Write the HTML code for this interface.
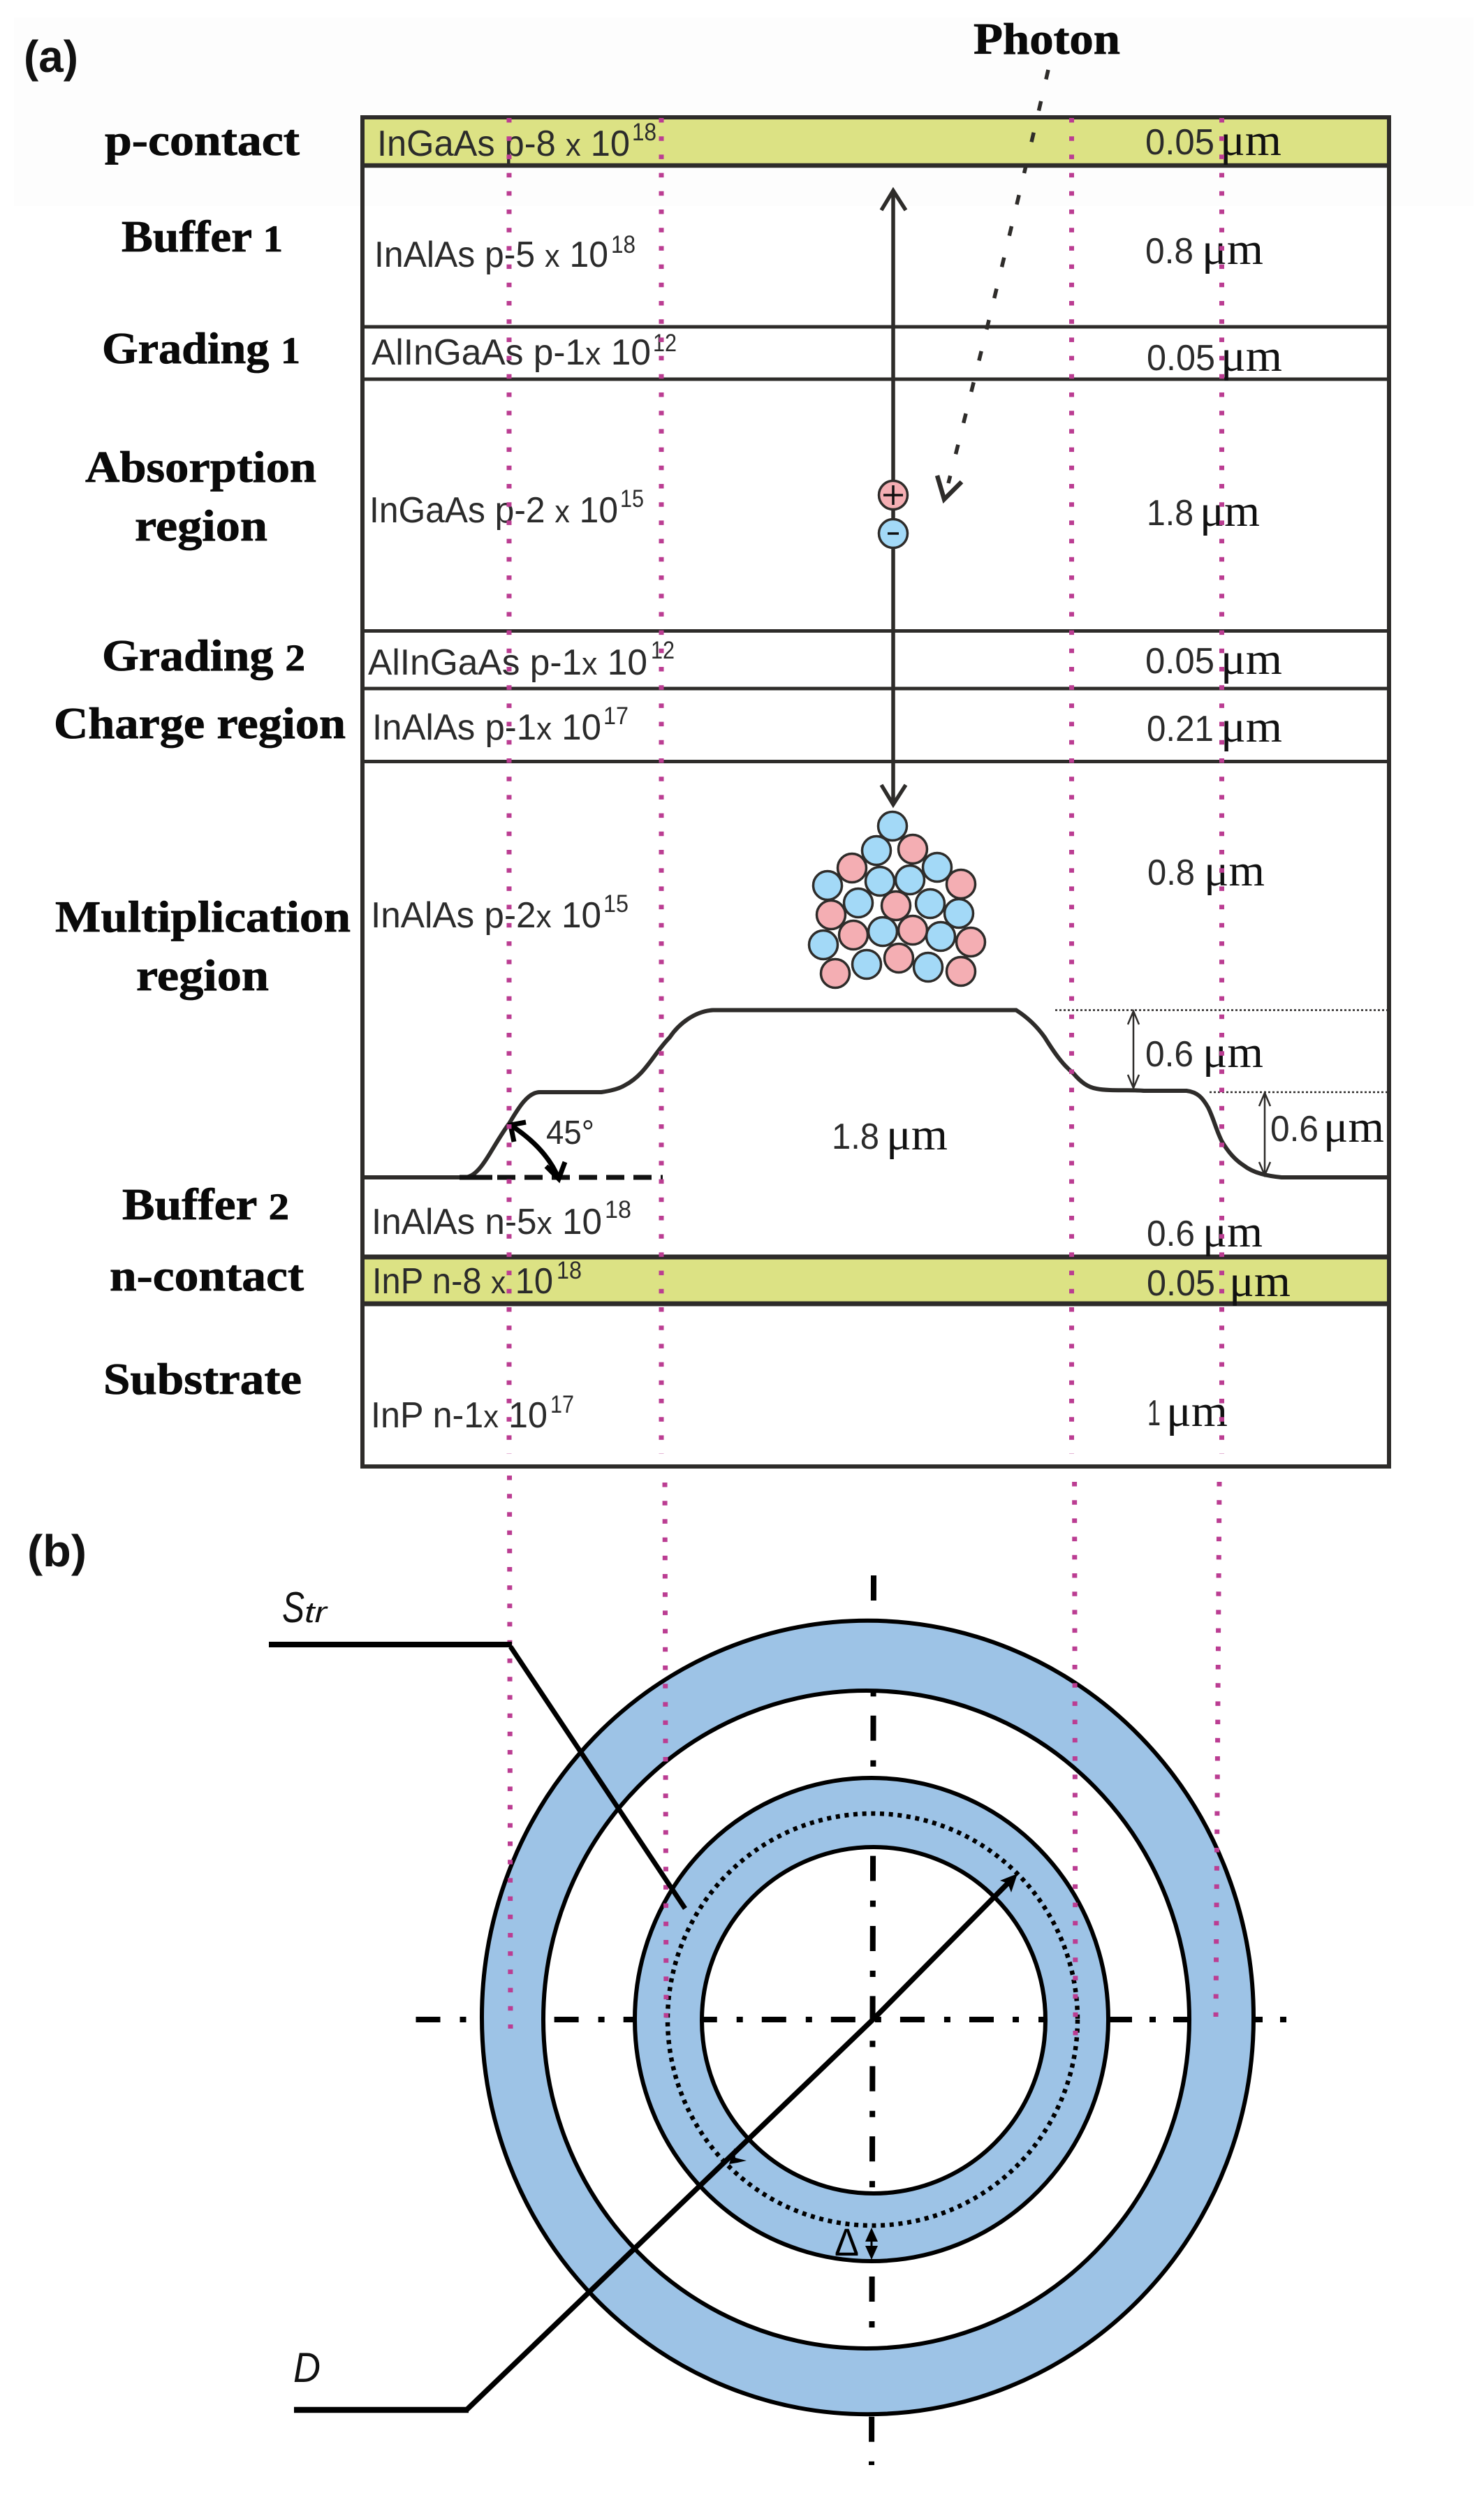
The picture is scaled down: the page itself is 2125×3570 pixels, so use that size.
<!DOCTYPE html>
<html><head><meta charset="utf-8"><style>
html,body{margin:0;padding:0;background:#fff}
svg{display:block}
.l{font-family:"Liberation Serif",serif;font-weight:bold;font-size:64px;fill:#0a0a0a;stroke:#0a0a0a;stroke-width:.8px}
.t{font-family:"Liberation Sans",sans-serif;font-size:52px;fill:#2b2b2b}
.s{font-family:"Liberation Sans",sans-serif;font-size:35px;fill:#2b2b2b}
.n{font-family:"Liberation Sans",sans-serif;font-size:52px;fill:#2b2b2b}
.u{font-family:"Liberation Serif",serif;font-size:65px;fill:#111}
.i{font-family:"Liberation Sans",sans-serif;font-style:italic;fill:#111}
.h{font-family:"Liberation Sans",sans-serif;font-weight:bold;font-size:64px;fill:#111}
</style></head><body>
<svg xmlns="http://www.w3.org/2000/svg" width="2125" height="3570" viewBox="0 0 2125 3570">
<rect width="2125" height="3570" fill="#fff"/>
<rect x="20" y="25" width="2090" height="270" fill="#fdfdfd"/>
<rect x="519" y="168" width="1470" height="69" fill="#dce284"/>
<rect x="519" y="1800" width="1470" height="67" fill="#dce284"/>
<g stroke="#2e2c2a" fill="none">
<rect x="519" y="168" width="1470" height="1932" stroke-width="6"/>
<path d="M519 237H1989" stroke-width="6.5"/>
<path d="M519 468H1989M519 543H1989M519 903.5H1989M519 986H1989M519 1090.5H1989" stroke-width="5"/>
<path d="M519 1800H1989M519 1867H1989" stroke-width="7"/>
</g>
<!-- labels -->
<text class="h" x="34" y="103" textLength="78" lengthAdjust="spacingAndGlyphs">(a)</text>
<text class="h" x="39" y="2243" textLength="85" lengthAdjust="spacingAndGlyphs">(b)</text>
<text class="l" x="1394" y="77" textLength="210" lengthAdjust="spacingAndGlyphs">Photon</text>
<text class="l" x="150" y="222" textLength="279" lengthAdjust="spacingAndGlyphs">p-contact</text>
<text class="l" x="174" y="360" textLength="231" lengthAdjust="spacingAndGlyphs">Buffer <tspan font-size="54">1</tspan></text>
<text class="l" x="146" y="520" textLength="284" lengthAdjust="spacingAndGlyphs">Grading <tspan font-size="54">1</tspan></text>
<text class="l" x="122" y="690" textLength="331" lengthAdjust="spacingAndGlyphs">Absorption</text>
<text class="l" x="193" y="774" textLength="190" lengthAdjust="spacingAndGlyphs">region</text>
<text class="l" x="146" y="960" textLength="291" lengthAdjust="spacingAndGlyphs">Grading <tspan font-size="54">2</tspan></text>
<text class="l" x="77" y="1057" textLength="418" lengthAdjust="spacingAndGlyphs">Charge region</text>
<text class="l" x="79" y="1334" textLength="423" lengthAdjust="spacingAndGlyphs">Multiplication</text>
<text class="l" x="195" y="1418" textLength="190" lengthAdjust="spacingAndGlyphs">region</text>
<text class="l" x="175" y="1746" textLength="239" lengthAdjust="spacingAndGlyphs">Buffer <tspan font-size="54">2</tspan></text>
<text class="l" x="157" y="1848" textLength="278" lengthAdjust="spacingAndGlyphs">n-contact</text>
<text class="l" x="148" y="1996" textLength="284" lengthAdjust="spacingAndGlyphs">Substrate</text>
<!-- doping -->
<text class="t" x="540" y="223" textLength="362" lengthAdjust="spacingAndGlyphs">InGaAs p-8 <tspan font-size="45">x</tspan> 10</text><text class="s" x="905" y="201" textLength="35" lengthAdjust="spacingAndGlyphs">18</text>
<text class="t" x="536" y="382" textLength="335" lengthAdjust="spacingAndGlyphs">InAlAs p-5 <tspan font-size="45">x</tspan> 10</text><text class="s" x="875" y="362" textLength="35" lengthAdjust="spacingAndGlyphs">18</text>
<text class="t" x="532" y="522" textLength="400" lengthAdjust="spacingAndGlyphs">AlInGaAs p-1<tspan font-size="45">x</tspan> 10</text><text class="s" x="935" y="503" textLength="34" lengthAdjust="spacingAndGlyphs">12</text>
<text class="t" x="529" y="748" textLength="356" lengthAdjust="spacingAndGlyphs">InGaAs p-2 <tspan font-size="45">x</tspan> 10</text><text class="s" x="888" y="726" textLength="34" lengthAdjust="spacingAndGlyphs">15</text>
<text class="t" x="527" y="966" textLength="400" lengthAdjust="spacingAndGlyphs">AlInGaAs p-1<tspan font-size="45">x</tspan> 10</text><text class="s" x="932" y="943" textLength="34" lengthAdjust="spacingAndGlyphs">12</text>
<text class="t" x="533" y="1059" textLength="328" lengthAdjust="spacingAndGlyphs">InAlAs p-1<tspan font-size="45">x</tspan> 10</text><text class="s" x="864" y="1037" textLength="36" lengthAdjust="spacingAndGlyphs">17</text>
<text class="t" x="531" y="1328" textLength="330" lengthAdjust="spacingAndGlyphs">InAlAs p-2<tspan font-size="45">x</tspan> 10</text><text class="s" x="864" y="1306" textLength="36" lengthAdjust="spacingAndGlyphs">15</text>
<text class="t" x="532" y="1767" textLength="330" lengthAdjust="spacingAndGlyphs">InAlAs n-5<tspan font-size="45">x</tspan> 10</text><text class="s" x="866" y="1744" textLength="38" lengthAdjust="spacingAndGlyphs">18</text>
<text class="t" x="533" y="1852" textLength="259" lengthAdjust="spacingAndGlyphs">InP n-8 <tspan font-size="45">x</tspan> 10</text><text class="s" x="797" y="1831" textLength="36" lengthAdjust="spacingAndGlyphs">18</text>
<text class="t" x="531" y="2044" textLength="253" lengthAdjust="spacingAndGlyphs">InP n-1<tspan font-size="45">x</tspan> 10</text><text class="s" x="788" y="2023" textLength="34" lengthAdjust="spacingAndGlyphs">17</text>
<!-- thickness -->
<text class="n" x="1640" y="221" textLength="99" lengthAdjust="spacingAndGlyphs">0.05</text><text class="u" x="1747" y="222" textLength="88" lengthAdjust="spacingAndGlyphs">μm</text>
<text class="n" x="1640" y="377" textLength="69" lengthAdjust="spacingAndGlyphs">0.8</text><text class="u" x="1721" y="378" textLength="88" lengthAdjust="spacingAndGlyphs">μm</text>
<text class="n" x="1642" y="530" textLength="98" lengthAdjust="spacingAndGlyphs">0.05</text><text class="u" x="1748" y="531" textLength="88" lengthAdjust="spacingAndGlyphs">μm</text>
<text class="n" x="1642" y="752" textLength="67" lengthAdjust="spacingAndGlyphs">1.8</text><text class="u" x="1718" y="753" textLength="86" lengthAdjust="spacingAndGlyphs">μm</text>
<text class="n" x="1640" y="964" textLength="99" lengthAdjust="spacingAndGlyphs">0.05</text><text class="u" x="1748" y="965" textLength="88" lengthAdjust="spacingAndGlyphs">μm</text>
<text class="n" x="1642" y="1061" textLength="96" lengthAdjust="spacingAndGlyphs">0.21</text><text class="u" x="1748" y="1062" textLength="88" lengthAdjust="spacingAndGlyphs">μm</text>
<text class="n" x="1643" y="1267" textLength="68" lengthAdjust="spacingAndGlyphs">0.8</text><text class="u" x="1724" y="1268" textLength="87" lengthAdjust="spacingAndGlyphs">μm</text>
<text class="n" x="1640" y="1527" textLength="69" lengthAdjust="spacingAndGlyphs">0.6</text><text class="u" x="1722" y="1528" textLength="87" lengthAdjust="spacingAndGlyphs">μm</text>
<text class="n" x="1191" y="1645" textLength="68" lengthAdjust="spacingAndGlyphs">1.8</text><text class="u" x="1269" y="1646" textLength="88" lengthAdjust="spacingAndGlyphs">μm</text>
<text class="n" x="1819" y="1634" textLength="69" lengthAdjust="spacingAndGlyphs">0.6</text><text class="u" x="1895" y="1635" textLength="87" lengthAdjust="spacingAndGlyphs">μm</text>
<text class="n" x="1642" y="1784" textLength="69" lengthAdjust="spacingAndGlyphs">0.6</text><text class="u" x="1722" y="1785" textLength="86" lengthAdjust="spacingAndGlyphs">μm</text>
<text class="n" x="1642" y="1855" textLength="98" lengthAdjust="spacingAndGlyphs">0.05</text><text class="u" x="1760" y="1856" textLength="88" lengthAdjust="spacingAndGlyphs">μm</text>
<text class="n" x="1643" y="2041" textLength="19" lengthAdjust="spacingAndGlyphs">1</text><text class="u" x="1670" y="2042" textLength="88" lengthAdjust="spacingAndGlyphs">μm</text>
<text class="n" x="782" y="1638" style="font-size:48px" textLength="69" lengthAdjust="spacingAndGlyphs">45°</text>
<!-- carrier arrow -->
<g stroke="#2e2c2a" fill="none" stroke-width="5.5">
<path d="M1279 272V1150"/>
<path d="M1262 301L1279 273L1297 301"/>
<path d="M1262 1124L1279 1152L1297 1124"/>
<path d="M1501 100Q1432 400 1358 692" stroke-dasharray="14 32"/>
<path d="M1342 681L1352 715L1377 690" stroke-width="6.5"/>
</g>
<g stroke="#2e2c2a" stroke-width="3.5">
<ellipse cx="1279" cy="709" rx="20.5" ry="20.5" fill="#f4aeb3"/>
<ellipse cx="1279" cy="764" rx="20.5" ry="20.5" fill="#a3d9f7"/>
</g>
<path d="M1265 709H1293M1279 695V723M1271 764H1287" stroke="#111" stroke-width="3.5" fill="none"/>
<!-- cluster -->
<g stroke="#2e2c2a" stroke-width="3.5" fill="#a3d9f7">
<circle cx="1278" cy="1183" r="20.5"/><circle cx="1255" cy="1218" r="20.5"/><circle cx="1342" cy="1242" r="20.5"/><circle cx="1185" cy="1268" r="20.5"/><circle cx="1260" cy="1262" r="20.5"/><circle cx="1303" cy="1260" r="20.5"/><circle cx="1229" cy="1293" r="20.5"/><circle cx="1332" cy="1294" r="20.5"/><circle cx="1373" cy="1308" r="20.5"/><circle cx="1264" cy="1334" r="20.5"/><circle cx="1347" cy="1341" r="20.5"/><circle cx="1179" cy="1353" r="20.5"/><circle cx="1241" cy="1381" r="20.5"/><circle cx="1329" cy="1385" r="20.5"/>
</g>
<g stroke="#2e2c2a" stroke-width="3.5" fill="#f4aeb3">
<circle cx="1307" cy="1216" r="20.5"/><circle cx="1220" cy="1243" r="20.5"/><circle cx="1376" cy="1266" r="20.5"/><circle cx="1283" cy="1297" r="20.5"/><circle cx="1190" cy="1310" r="20.5"/><circle cx="1222" cy="1339" r="20.5"/><circle cx="1307" cy="1332" r="20.5"/><circle cx="1390" cy="1349" r="20.5"/><circle cx="1287" cy="1372" r="20.5"/><circle cx="1196" cy="1394" r="20.5"/><circle cx="1376" cy="1391" r="20.5"/>
</g>
<!-- mesa -->
<g fill="none" stroke="#2e2c2a">
<path d="M519 1686H665C680 1686 692 1668 705 1646C716 1628 722 1618 729 1609C741 1589 755 1564 773 1564H861C875 1562 887 1559 895 1554C925 1538 935 1510 959 1485.5C972 1466 995 1448 1021 1446.5H1455C1470 1456 1485 1470 1496 1485.5C1510 1508 1522 1525 1537 1537C1548 1550 1558 1557 1570 1559C1590 1563 1620 1560 1638 1562H1699C1715 1564 1722 1572 1730 1586C1738 1602 1742 1620 1750 1635C1760 1652 1770 1662 1781 1669C1795 1680 1815 1684 1835 1686H1989" stroke-width="6"/>
<path d="M1511 1446.5H1989M1732 1564H1989" stroke-width="2.5" stroke-dasharray="3 3"/>
<path d="M1623 1449V1557M1615 1467L1623 1448L1631 1467M1615 1539L1623 1558L1631 1539M1811 1566V1682M1803 1584L1811 1565L1819 1584M1803 1664L1811 1683L1819 1664" stroke-width="2.5"/>
</g>
<path d="M658 1686H705" stroke="#111" stroke-width="7" fill="none"/>
<path d="M712 1686H949" stroke="#111" stroke-width="7" fill="none" stroke-dasharray="26 13"/>
<path d="M731 1611Q783 1645 800 1688" stroke="#000" stroke-width="7" fill="none"/>
<path d="M753 1607L731 1611L736 1635M782 1670L800 1688L809 1664" stroke="#000" stroke-width="7" fill="none"/>
<!-- centre lines -->
<g fill="none" stroke="#000">
<path d="M1251 2256L1248 3530" stroke-width="8" stroke-dasharray="36 28 9 27.4"/>
<path d="M595.5 2892H1385" stroke-width="8" stroke-dasharray="35 28 9 27.06"/>
<path d="M1388 2892H1423M1450 2892H1459M1487 2892H1522M1580 2892H1621M1646 2892H1655M1680 2892H1715M1775 2892H1808M1833 2892H1842" stroke-width="8"/>
</g>
<!-- rings -->
<path fill-rule="evenodd" fill="#9dc3e6" stroke="#000" stroke-width="6" d="M690 2889a552.5 568 0 1 0 1105 0a552.5 568 0 1 0-1105 0ZM778 2892a462.5 471 0 1 0 925 0a462.5 471 0 1 0-925 0Z"/>
<path fill-rule="evenodd" fill="#9dc3e6" stroke="#000" stroke-width="6" d="M909 2892a339 346 0 1 0 678 0a339 346 0 1 0-678 0ZM1005 2893a246 248 0 1 0 492 0a246 248 0 1 0-492 0Z"/>
<ellipse cx="1249.5" cy="2892" rx="293.5" ry="295" fill="none" stroke="#000" stroke-width="6.5" stroke-dasharray="6 6.7"/>
<!-- magenta dotted -->
<g fill="none" stroke="#bb3d92" stroke-width="7" stroke-dasharray="6.5 19.7">
<path d="M729 169V2082M947 169V2082M1534.5 169V2082M1749.5 169V2082"/>
<path d="M729.5 2113L731 2905M952 2123L954 2905M1538.6 2122L1540 2915M1746 2122L1741 2888"/>
</g>
<!-- leaders -->
<g fill="none" stroke="#000">
<path d="M385 2355H733" stroke-width="8"/>
<path d="M731 2358L981 2733" stroke-width="7"/>
<path d="M421 3451H671" stroke-width="8.5"/>
<path d="M667 3452L1250 2892L1445 2695" stroke-width="7.5"/>
</g>
<polygon points="1457,2683 1432,2693 1443,2697 1448,2710" fill="#000"/>
<polygon points="1051.5,3076 1053,3090 1069,3094 1056,3097 1044,3099" fill="#000"/>
<text class="i" x="404" y="2323" style="font-size:62px" textLength="32" lengthAdjust="spacingAndGlyphs">S</text>
<text class="i" x="436" y="2323" style="font-size:42px" textLength="32" lengthAdjust="spacingAndGlyphs">tr</text>
<text class="i" x="420" y="3411" style="font-size:60px" textLength="39" lengthAdjust="spacingAndGlyphs">D</text>
<text x="1195" y="3230" font-family="Liberation Sans, sans-serif" font-size="56" fill="#000" textLength="35" lengthAdjust="spacingAndGlyphs">Δ</text>
<path d="M1248 3196V3229" stroke="#000" stroke-width="3" fill="none"/>
<path d="M1248 3190L1239 3210H1257ZM1248 3236L1239 3216H1257Z" fill="#000"/>
</svg>
</body></html>
